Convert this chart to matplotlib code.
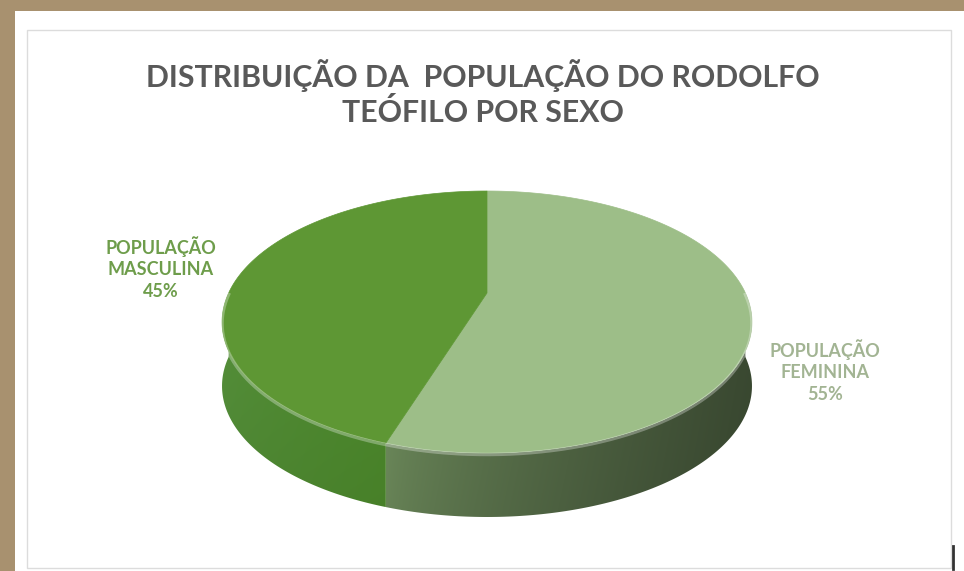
import matplotlib.pyplot as plt
import numpy as np
from matplotlib.patches import Polygon, Rectangle
from matplotlib.colors import to_rgb

# data
slice_names = ['POPULAÇÃO\nFEMININA', 'POPULAÇÃO\nMASCULINA']
slice_shares = [55, 45]
title_text = 'DISTRIBUIÇÃO DA  POPULAÇÃO DO RODOLFO\nTEÓFILO POR SEXO'

# styles
top_colors = ['#9dbe88', '#5e9734']
side_from = ['#6f8d5d', '#55903a']   # colour at left end of each wall
side_to = ['#3b4a32', '#4d8a2c']     # colour at right end of each wall
label_colors = ['#a2b493', '#6e9d4b']
label_pos = [(825, 371), (161, 268)]
frame_color = '#a8916f'

# pie geometry (pixel space, perspective disk)
cx, cy0, sx, pz, rz = 487, 293, 258.4, -59.7, 0.2214
depth = 64


def proj(t):
    u = np.sin(t)
    d = 1 + rz * u
    return cx + sx * np.cos(t) / d, (cy0 + pz * u) / d


fig = plt.figure(figsize=(9.64, 5.71), dpi=100, facecolor=frame_color)
ax = fig.add_axes([0, 0, 1, 1])
ax.set_xlim(0, 964)
ax.set_ylim(571, 0)
ax.axis('off')

# white panel with thin inner border
ax.add_patch(Rectangle((15, 11), 960, 570, facecolor='white', edgecolor='none', zorder=0))
ax.add_patch(Rectangle((27, 30), 924, 538, facecolor='none', edgecolor='#dcdcdc', lw=1, zorder=1))
ax.plot([953, 953], [546, 569], color='#333333', lw=2, zorder=1)

# slice angles, clockwise from 12 o'clock
total = float(sum(slice_shares))
bounds = [np.pi / 2]
for v in slice_shares:
    bounds.append(bounds[-1] - 2 * np.pi * v / total)

for i, v in enumerate(slice_shares):
    t0, t1 = bounds[i], bounds[i + 1]
    # side wall: visible only on the front half (t between -pi and 0)
    a0 = min(t0, 0.0)
    a1 = max(t1, -np.pi)
    if a0 > a1:
        ts = np.linspace(a0, a1, 150)
        xs, ys = proj(ts)
        pts = list(zip(xs, ys)) + list(zip(xs[::-1], ys[::-1] + depth))
        wall = Polygon(pts, closed=True, facecolor='none', edgecolor='none')
        ax.add_patch(wall)
        x0, x1 = xs.min(), xs.max()
        y0, y1 = ys.min(), ys.max() + depth
        fx = np.linspace(0, 1, 200) ** 0.75
        fy = np.linspace(0, 1, 60)
        c0, c1 = np.array(to_rgb(side_from[i])), np.array(to_rgb(side_to[i]))
        img = c0[None, None, :] + (c1 - c0)[None, None, :] * fx[None, :, None]
        img = img * (1 - 0.07 * fy[:, None, None])
        im = ax.imshow(np.clip(img, 0, 1), extent=(x0, x1, y1, y0), origin='upper',
                       aspect='auto', interpolation='bilinear', zorder=2)
        im.set_clip_path(wall)
    # top face
    ts = np.linspace(t0, t1, 200)
    xs, ys = proj(ts)
    pts = [(cx, cy0)] + list(zip(xs, ys))
    ax.add_patch(Polygon(pts, closed=True, facecolor=top_colors[i], edgecolor=top_colors[i], lw=0.5, zorder=3))

ax.set_xlim(0, 964)
ax.set_ylim(571, 0)

# soft highlight on the front rim
ts = np.linspace(-np.pi, 0, 200)
xs, ys = proj(ts)
ax.plot(xs, ys + 1.5, color='white', alpha=0.3, lw=2.5, zorder=4)

# labels
for i, v in enumerate(slice_shares):
    ax.text(label_pos[i][0], label_pos[i][1], '%s\n%d%%' % (slice_names[i], v),
            ha='center', va='center', color=label_colors[i], fontsize=13,
            fontweight='bold', family='Lato', linespacing=1.35, zorder=5)

ax.text(483, 93, title_text, ha='center', va='center', color='#595959', fontsize=21.8,
        fontweight='bold', family='Lato', linespacing=1.25, zorder=5)

fig.savefig('out.png', dpi=100, facecolor=frame_color)
